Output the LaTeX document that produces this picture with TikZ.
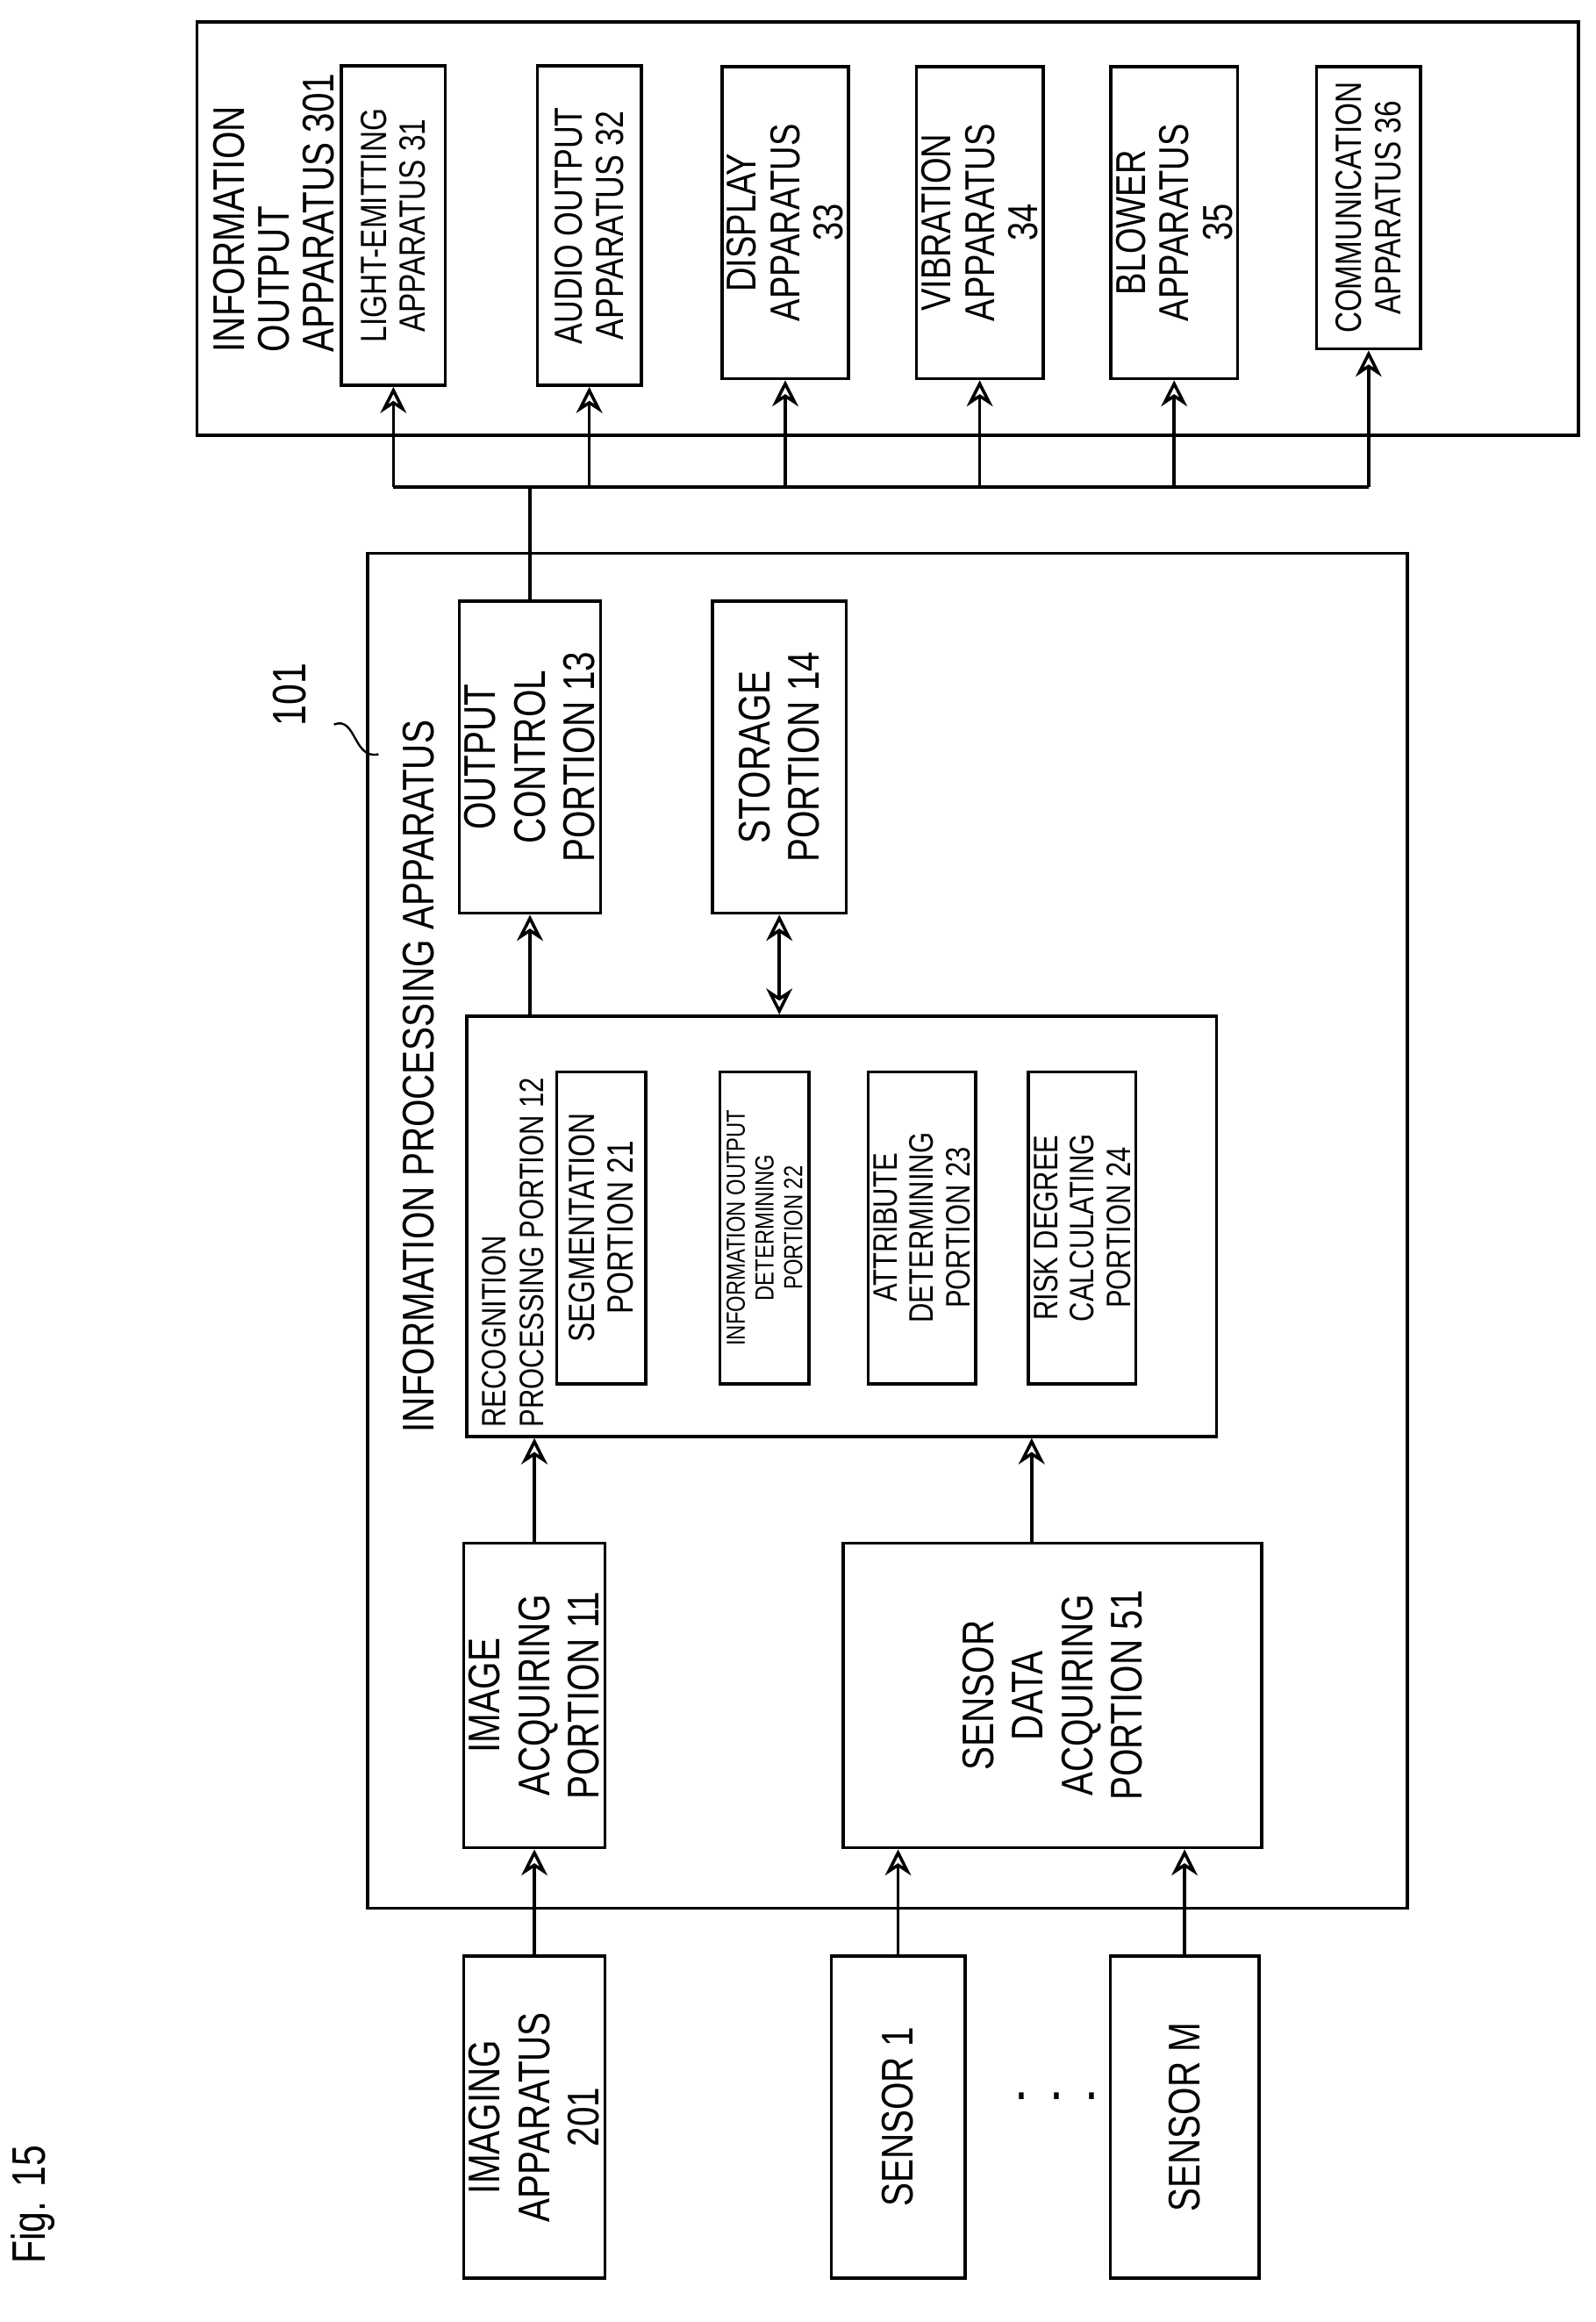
\documentclass[tikz,border=0pt]{standalone}
\usepackage{fontspec}
\setmainfont{Liberation Sans}[FakeStretch=0.8]
\usetikzlibrary{arrows.meta}
\tikzset{
  blk/.style={draw, semithick, rotate=90, align=center, inner sep=1pt, font=\fontsize{8.5}{9.5}\selectfont},
  sub/.style={blk, font=\fontsize{6.5}{7}\selectfont},
  frame/.style={draw, semithick, rotate=90},
  lbl/.style={rotate=90, align=left, inner sep=0pt, font=\fontsize{8.5}{8.6}\selectfont},
  arr/.style={semithick, -{Stealth[open, length=5pt, width=5pt]}},
  darr/.style={semithick, {Stealth[open, length=5pt, width=5pt]}-{Stealth[open, length=5pt, width=5pt]}}
}
\begin{document}
\begin{tikzpicture}[x=0.01cm, y=0.01cm]
  \useasboundingbox (0,0) rectangle (1075,-1564);

  % FIGURE NUMBER
  \node[rotate=90, font=\fontsize{9}{10}\selectfont] (fig) at (22,-1485) {Fig. 15};

  % INFORMATION OUTPUT APPARATUS
  \node[frame, minimum width=2.78cm, minimum height=9.30cm] (out) at (598,-154) {};
  \node[lbl, anchor=north west] (outlbl) at (143,-238) {INFORMATION\\OUTPUT\\APPARATUS 301};
  \node[blk, minimum width=2.15cm, minimum height=0.70cm, font=\fontsize{7}{7.5}\selectfont] (o31) at (265,-152) {LIGHT-EMITTING\\APPARATUS 31};
  \node[blk, minimum width=2.15cm, minimum height=0.70cm, font=\fontsize{7.5}{8}\selectfont] (o32) at (397,-152) {AUDIO OUTPUT\\APPARATUS 32};
  \node[blk, minimum width=2.10cm, minimum height=0.72cm, font=\fontsize{8}{8.3}\selectfont] (o33) at (529,-150) {DISPLAY\\APPARATUS\\33};
  \node[blk, minimum width=2.10cm, minimum height=0.70cm, font=\fontsize{8}{8.3}\selectfont] (o34) at (660,-150) {VIBRATION\\APPARATUS\\34};
  \node[blk, minimum width=2.10cm, minimum height=0.68cm, font=\fontsize{8}{8.3}\selectfont] (o35) at (791,-150) {BLOWER\\APPARATUS\\35};
  \node[blk, minimum width=1.90cm, minimum height=0.70cm, font=\fontsize{7}{7.5}\selectfont] (o36) at (922,-140) {COMMUNICATION\\APPARATUS 36};

  % INFORMATION PROCESSING APPARATUS
  \node[frame, minimum width=9.12cm, minimum height=7.00cm] (ipa) at (598,-829) {};
  \node[lbl] (ipalbl) at (282,-725) {INFORMATION PROCESSING APPARATUS};
  \node[rotate=90, font=\fontsize{9}{10}\selectfont] (ref) at (195,-468) {101};
  \draw (225,-488) .. controls (240,-482) and (238,-512) .. (255,-508);

  \node[blk, minimum width=2.10cm, minimum height=0.90cm] (oc) at (357,-510) {OUTPUT\\CONTROL\\PORTION 13};
  \node[blk, minimum width=2.10cm, minimum height=0.90cm] (st) at (525,-510) {STORAGE\\PORTION 14};

  \node[frame, minimum width=2.83cm, minimum height=5.05cm] (rec) at (567,-826) {};
  \node[lbl, anchor=north west, font=\fontsize{6.5}{7.3}\selectfont] (reclbl) at (324,-962) {RECOGNITION\\PROCESSING PORTION 12};
  \node[blk, minimum width=2.10cm, minimum height=0.60cm, font=\fontsize{7}{7.5}\selectfont] (seg) at (405,-827) {SEGMENTATION\\PORTION 21};
  \node[sub, minimum width=2.10cm, minimum height=0.60cm, font=\fontsize{5}{5.5}\selectfont] (iod) at (515,-827) {INFORMATION OUTPUT\\DETERMINING\\PORTION 22};
  \node[sub, minimum width=2.10cm, minimum height=0.62cm] (att) at (621,-827) {ATTRIBUTE\\DETERMINING\\PORTION 23};
  \node[sub, minimum width=2.10cm, minimum height=0.62cm] (risk) at (729,-827) {RISK DEGREE\\CALCULATING\\PORTION 24};

  \node[blk, minimum width=2.05cm, minimum height=0.90cm] (ia) at (360,-1142) {IMAGE\\ACQUIRING\\PORTION 11};
  \node[blk, minimum width=2.05cm, minimum height=2.82cm] (sda) at (709,-1142) {SENSOR\\DATA\\ACQUIRING\\PORTION 51};

  % INPUTS
  \node[blk, minimum width=2.17cm, minimum height=0.90cm] (img) at (360,-1426) {IMAGING\\APPARATUS\\201};
  \node[blk, minimum width=2.17cm, minimum height=0.90cm] (s1) at (605,-1426) {SENSOR 1};
  \node[blk, minimum width=2.17cm, minimum height=1.00cm] (sm) at (798,-1426) {SENSOR M};
  \node[font=\fontsize{12}{12}\selectfont] (dots) at (712,-1412) {.\,\,.\,\,.};

  % CONNECTIONS
  \draw[arr] (img.east) -- (ia.west);
  \draw[arr] (s1.east) -- (s1.east |- sda.west);
  \draw[arr] (sm.east) -- (sm.east |- sda.west);
  \draw[arr] (ia.east) -- (ia.east |- rec.west);
  \draw[arr] ([xshift=-0.14cm]sda.east) -- ([xshift=-0.14cm]sda.east |- rec.west);
  \draw[arr] (oc.center |- rec.east) -- (oc.west);
  \draw[darr] (st.center |- rec.east) -- (st.west);

  % OUTPUT BUS
  \coordinate (bus) at (357,-328);
  \draw[semithick] (oc.east) -- (bus);
  \draw[semithick] (o31.center |- bus) -- (o36.center |- bus);
  \foreach \n in {o31,o32,o33,o34,o35,o36}
    \draw[arr] (\n.center |- bus) -- (\n.west);
\end{tikzpicture}
\end{document}
